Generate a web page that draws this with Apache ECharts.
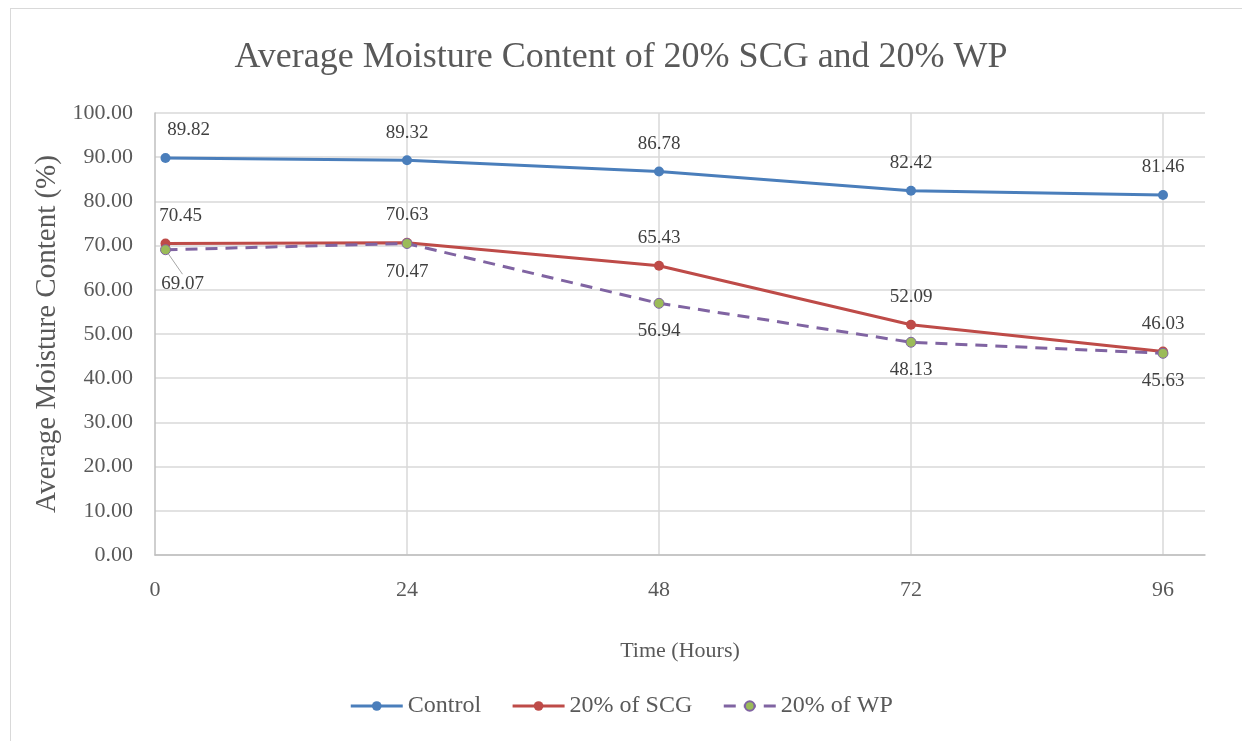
<!DOCTYPE html>
<html>
<head>
<meta charset="utf-8">
<script src="https://cdn.jsdelivr.net/npm/echarts@6/dist/echarts.min.js"></script>
<style>
  html, body { margin: 0; padding: 0; background: #fff; }
  #moistureChart { width: 1242px; height: 741px; }
  #frame { position: absolute; left: 10px; top: 8px; width: 1240px; height: 740px; border: 1px solid #d9d9d9; pointer-events: none; }
</style>
</head>
<body>
<div id="moistureChart"></div>
<div id="frame"></div>
<script>
// time points (hours)
var hours = [1, 24, 48, 72, 96]
var xTicks = [0, 24, 48, 72, 96]
var control = [89.82, 89.32, 86.78, 82.42, 81.46]
var scg = [70.45, 70.63, 65.43, 52.09, 46.03]
var wp = [69.07, 70.47, 56.94, 48.13, 45.63]
var seriesNames = ['Control', '20% of SCG', '20% of WP']

var font = 'Liberation Serif'
var textColor = '#595959'

// first point's label is nudged inside the plot like in the original
function pairs(values, firstExtra) {
  return values.map(function (v, i) {
    var item = { value: [hours[i], v] }
    if (i === 0 && firstExtra) Object.assign(item, firstExtra)
    return item
  })
}

var chart = echarts.init(document.getElementById('moistureChart'))

var option = {
  animation: false,
  title: {
    text: 'Average Moisture Content of 20% SCG and 20% WP',
    left: 'center',
    top: 35,
    textStyle: { fontFamily: font, fontSize: 36, fontWeight: 'normal', color: textColor }
  },
  legend: {
    bottom: 18,
    left: 'center',
    itemWidth: 52,
    itemHeight: 12,
    itemGap: 30,
    lineStyle: { width: 3 },
    textStyle: { fontFamily: font, fontSize: 24, color: textColor },
    data: seriesNames
  },
  grid: { left: 155, right: 37, top: 113, bottom: 186 },
  xAxis: {
    type: 'value',
    min: 0,
    max: 100,
    interval: 24,
    name: 'Time (Hours)',
    nameLocation: 'middle',
    nameGap: 85,
    nameTextStyle: { fontFamily: font, fontSize: 22, color: textColor },
    axisLine: { show: true, lineStyle: { color: '#bfbfbf', width: 1.5 } },
    axisTick: { show: false },
    axisLabel: {
      margin: 24,
      fontFamily: font,
      fontSize: 22,
      color: textColor,
      showMaxLabel: false,
      formatter: function (v) { return xTicks.indexOf(v) >= 0 ? String(v) : '' }
    },
    splitLine: { show: true, showMinLine: false, showMaxLine: false, lineStyle: { color: '#d9d9d9', width: 1.5 } }
  },
  yAxis: {
    type: 'value',
    min: 0,
    max: 100,
    interval: 10,
    name: 'Average Moisture Content (%)',
    nameLocation: 'middle',
    nameGap: 93,
    nameTextStyle: { fontFamily: font, fontSize: 29, color: textColor },
    axisLine: { show: true, lineStyle: { color: '#bfbfbf', width: 1.5 } },
    axisTick: { show: false },
    axisLabel: {
      margin: 22,
      fontFamily: font,
      fontSize: 22,
      color: textColor,
      formatter: function (v) { return v.toFixed(2) }
    },
    splitLine: { show: true, lineStyle: { color: '#d9d9d9', width: 1.5 } }
  },
  series: [
    {
      name: 'Control',
      type: 'line',
      data: pairs(control, { label: { offset: [23, 0] } }),
      symbol: 'circle',
      symbolSize: 10,
      lineStyle: { color: '#4a7ebb', width: 3 },
      itemStyle: { color: '#4a7ebb' },
      label: {
        show: true, position: 'top', distance: 13,
        fontFamily: font, fontSize: 19, color: '#404040',
        formatter: function (p) { return p.value[1].toFixed(2) }
      }
    },
    {
      name: '20% of SCG',
      type: 'line',
      data: pairs(scg, { label: { offset: [15, 0] } }),
      symbol: 'circle',
      symbolSize: 10,
      lineStyle: { color: '#be4b48', width: 3 },
      itemStyle: { color: '#be4b48' },
      label: {
        show: true, position: 'top', distance: 13,
        fontFamily: font, fontSize: 19, color: '#404040',
        formatter: function (p) { return p.value[1].toFixed(2) }
      }
    },
    {
      name: '20% of WP',
      type: 'line',
      data: pairs(wp, { labelLine: { show: true } }),
      symbol: 'circle',
      symbolSize: 10,
      lineStyle: { color: '#8064a2', width: 3, type: [12, 8] },
      itemStyle: { color: '#9bbb59', borderColor: '#8064a2', borderWidth: 1 },
      label: {
        show: true, position: 'bottom', distance: 13,
        fontFamily: font, fontSize: 19, color: '#404040',
        formatter: function (p) { return p.value[1].toFixed(2) }
      },
      labelLine: { show: false, lineStyle: { color: '#a6a6a6', width: 1 } },
      labelLayout: function (params) {
        if (params.dataIndex === 0) return { dx: 17, dy: 6 }
      }
    }
  ]
}

option && chart.setOption(option)
</script>
</body>
</html>
